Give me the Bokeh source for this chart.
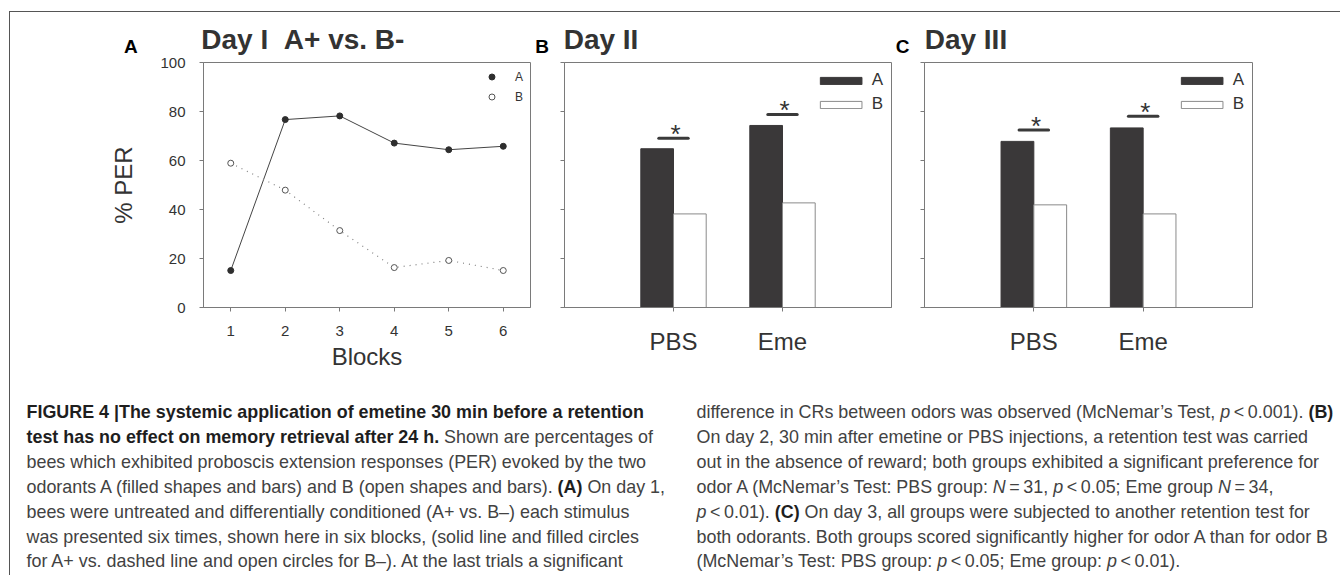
from bokeh.plotting import figure
from bokeh.models import (Range1d, FactorRange, FixedTicker, Legend, LegendItem,
                          ColumnDataSource, Div)
from bokeh.transform import dodge
from bokeh.layouts import row, column
from bokeh.core.properties import value
from bokeh.embed import file_html
from bokeh.resources import INLINE

# ---------------- data ----------------
blocks = [1, 2, 3, 4, 5, 6]
day1_A = [15.1, 76.7, 78.2, 67.1, 64.4, 65.8]
day1_B = [58.9, 47.9, 31.4, 16.3, 19.2, 15.1]

groups = ["PBS", "Eme"]
day2_A = [64.8, 74.3]
day2_B = [38.2, 42.7]
day2_sig = [69.1, 78.8]
day3_A = [67.8, 73.3]
day3_B = [41.9, 38.2]
day3_sig = [72.5, 78.1]
sig_marks = ["*", "*"]

y_ticks = [0, 20, 40, 60, 80, 100]
series_labels = ["A", "B"]
panel_letters = ["A", "B", "C"]
panel_titles = ["Day I\u00a0\u00a0A+ vs. B-", "Day II", "Day III"]

FONT = "Liberation Sans"
TXT = "#333333"
AX = "#7a7a7a"
BAR = "#3a3839"


def style(p):
    p.outline_line_color = AX
    p.xgrid.visible = False
    p.ygrid.visible = False
    p.background_fill_color = "white"
    p.border_fill_color = None
    for ax in p.axis:
        ax.axis_line_color = AX
        ax.major_tick_line_color = AX
        ax.minor_tick_line_color = None
        ax.major_tick_out = 4
        ax.major_tick_in = 0
        ax.major_label_text_font = FONT
        ax.major_label_text_color = TXT
        ax.axis_label_text_font = FONT
        ax.axis_label_text_font_style = "normal"
        ax.axis_label_text_color = TXT


# ---------------- Panel A ----------------
pA = figure(width=522, height=346, x_range=Range1d(0.5, 6.5), y_range=Range1d(0, 100),
            output_backend="svg", toolbar_location=None, title=None,
            min_border_left=193, min_border_right=2, min_border_top=8, min_border_bottom=93)
srcA = ColumnDataSource(dict(x=blocks, a=day1_A, b=day1_B))
pA.line("x", "a", source=srcA, line_color="#444444", line_width=1)
pA.line("x", "b", source=srcA, line_color="#808080", line_width=1.2, line_dash="1 5")
sA = pA.scatter("x", "a", source=srcA, size=6, fill_color="#2e2e2e", line_color="#2e2e2e")
sB = pA.scatter("x", "b", source=srcA, size=6, fill_color="white", line_color="#555555")
style(pA)
pA.xaxis.ticker = FixedTicker(ticks=blocks)
pA.yaxis.ticker = FixedTicker(ticks=y_ticks)
pA.xaxis.major_label_text_font_size = "15px"
pA.yaxis.major_label_text_font_size = "15px"
pA.xaxis.major_label_standoff = 14
pA.yaxis.major_label_standoff = 14
pA.xaxis.axis_label = "Blocks"
pA.yaxis.axis_label = "% PER"
pA.xaxis.axis_label_text_font_size = "24px"
pA.yaxis.axis_label_text_font_size = "24px"
pA.xaxis.axis_label_standoff = 4
pA.yaxis.axis_label_standoff = 20
legA = Legend(items=[LegendItem(label=series_labels[0], renderers=[sA]),
                     LegendItem(label=series_labels[1], renderers=[sB])],
              location="top_right", border_line_color=None, background_fill_alpha=0,
              label_text_font=FONT, label_text_font_size="12px", label_text_color=TXT,
              glyph_width=15, glyph_height=15, label_height=15, label_width=0,
              label_standoff=16, spacing=5, padding=7, margin=7)
pA.add_layout(legA)


# ---------------- Panels B / C ----------------
def bar_panel(width, mbl, mbr, vals_a, vals_b, sig):
    p = figure(width=width, height=346,
               x_range=FactorRange(factors=groups, range_padding=0.5,
                                   range_padding_units="absolute"),
               y_range=Range1d(0, 100), output_backend="svg", toolbar_location=None,
               title=None, min_border_left=mbl, min_border_right=mbr, min_border_top=8,
               min_border_bottom=93)
    src = ColumnDataSource(dict(cat=groups, a=vals_a, b=vals_b, sig=sig, mark=sig_marks))
    ra = p.vbar(x=dodge("cat", -0.15, range=p.x_range), top="a", width=0.3, source=src,
                fill_color=BAR, line_color=BAR, line_width=1)
    rb = p.vbar(x=dodge("cat", 0.15, range=p.x_range), top="b", width=0.3, source=src,
                fill_color="white", line_color="#8a8a8a", line_width=1)
    p.segment(x0=dodge("cat", -0.135, range=p.x_range), y0="sig",
              x1=dodge("cat", 0.135, range=p.x_range), y1="sig", source=src,
              line_color="#3a3a3a", line_width=3, line_cap="round")
    p.text(x=dodge("cat", 0.02, range=p.x_range), y="sig", text="mark", source=src,
           text_font=value(FONT), text_font_size="26px", text_color="#333333",
           text_align="center", text_baseline="alphabetic", y_offset=-4)
    style(p)
    p.yaxis.ticker = FixedTicker(ticks=y_ticks)
    p.yaxis.major_label_overrides = {t: "" for t in y_ticks}
    p.xaxis.major_label_text_font_size = "24px"
    p.xaxis.major_label_standoff = 16
    leg = Legend(items=[LegendItem(label=series_labels[0], renderers=[ra]),
                        LegendItem(label=series_labels[1], renderers=[rb])],
                 location="top_right", border_line_color=None, background_fill_alpha=0,
                 label_text_font=FONT, label_text_font_size="17px", label_text_color=TXT,
                 glyph_width=52, glyph_height=9, label_height=20, label_width=0,
                 label_standoff=5, spacing=4, padding=7, margin=8)
    p.add_layout(leg)
    return p


pB = bar_panel(361, 32, 2, day2_A, day2_B, day2_sig)
pC = bar_panel(441, 31, 82, day3_A, day3_B, day3_sig)

# ---------------- panel headers (letters + titles) ----------------
letter_left = [114, 525.3, 885.8]
title_left = [191.3, 553.7, 914.7]
spans = []
for i in range(3):
    spans.append(
        f'<div style="position:absolute;left:{letter_left[i]}px;top:24.9px;'
        f'font:bold 19px/19px \'Liberation Sans\';color:#000;white-space:nowrap;">'
        f'{panel_letters[i]}</div>')
    spans.append(
        f'<div style="position:absolute;left:{title_left[i]}px;top:14.3px;'
        f'font:bold 28px/28px \'Liberation Sans\';color:{TXT};white-space:nowrap;">'
        f'{panel_titles[i]}</div>')
hdr = Div(text='<div style="position:relative;width:1330px;height:42px;overflow:visible;">'
          + "".join(spans) + '</div>',
          width=1330, height=42, margin=(0, 0, 0, 0), styles={"overflow": "visible"})

# ---------------- caption ----------------
left_lines = [
    "<b>FIGURE 4 |The systemic application of emetine 30 min before a retention</b>",
    "<b>test has no effect on memory retrieval after 24 h.</b> Shown are percentages of",
    "bees which exhibited proboscis extension responses (PER) evoked by the two",
    "odorants A (filled shapes and bars) and B (open shapes and bars). <b>(A)</b> On day 1,",
    "bees were untreated and differentially conditioned (A+ vs. B\u2013) each stimulus",
    "was presented six times, shown here in six blocks, (solid line and filled circles",
    "for A+ vs. dashed line and open circles for B\u2013). At the last trials a significant",
]
right_lines = [
    "difference in CRs between odors was observed (McNemar\u2019s Test, <i>p</i>&thinsp;&lt;&thinsp;0.001). <b>(B)</b>",
    "On day 2, 30 min after emetine or PBS injections, a retention test was carried",
    "out in the absence of reward; both groups exhibited a significant preference for",
    "odor A (McNemar\u2019s Test: PBS group: <i>N</i>&thinsp;=&thinsp;31, <i>p</i>&thinsp;&lt;&thinsp;0.05; Eme group <i>N</i>&thinsp;=&thinsp;34,",
    "<i>p</i>&thinsp;&lt;&thinsp;0.01). <b>(C)</b> On day 3, all groups were subjected to another retention test for",
    "both odorants. Both groups scored significantly higher for odor A than for odor B",
    "(McNemar\u2019s Test: PBS group: <i>p</i>&thinsp;&lt;&thinsp;0.05; Eme group: <i>p</i>&thinsp;&lt;&thinsp;0.01).",
]
col_style = ("position:absolute;top:0;white-space:nowrap;"
             "font-family:'Liberation Sans',Arial,sans-serif;"
             "font-size:17.9px;line-height:24.9px;color:#424242;")
bstyle = "<style>b{color:#1e1e1e;}</style>"
html = (bstyle + '<div style="position:relative;width:1330px;height:175px;">'
        f'<div style="{col_style}left:16.5px;">' + "<br>".join(left_lines) + '</div>'
        f'<div style="{col_style}left:686.5px;">' + "<br>".join(right_lines) + '</div>'
        '</div>')
cap = Div(text=html, width=1330, height=175, margin=(0, 0, 0, 0))

top = row(pA, pB, pC, spacing=0)
lay = column(hdr, top, cap, spacing=0, margin=(11, 0, 0, 9),
             styles={"border-top": "1px solid #555555", "border-left": "1px solid #555555"})

open("out.html", "w").write(file_html(lay, INLINE))
